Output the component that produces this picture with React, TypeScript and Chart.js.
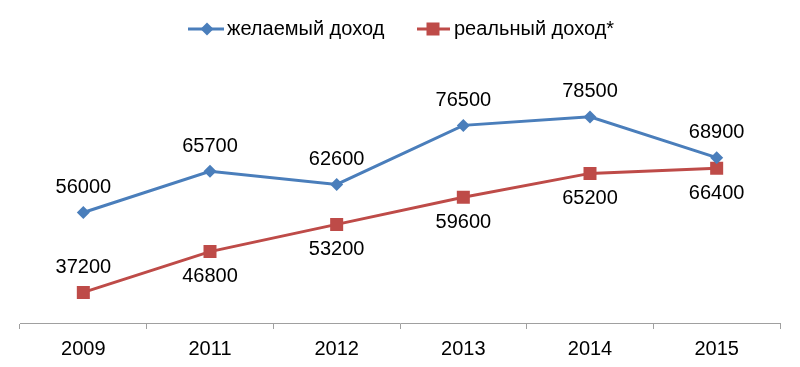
import React, { useEffect, useRef } from "react";
import { Chart, registerables } from "chart.js";

Chart.register(...registerables);

const YEARS = ["2009", "2011", "2012", "2013", "2014", "2015"];
const DESIRED = [56000, 65700, 62600, 76500, 78500, 68900];
const REAL = [37200, 46800, 53200, 59600, 65200, 66400];
const SERIES_NAMES = ["желаемый доход", "реальный доход*"];
const DESIRED_LABEL_POS = ["above", "above", "above", "above", "above", "above"];
const REAL_LABEL_POS = ["above", "below", "below", "below", "below", "below"];

const BLUE = "#4A7EBB";
const RED = "#BE4B48";
const FONT = '"Liberation Sans", Arial, sans-serif';

const overlayPlugin = {
  id: "overlay",
  afterDatasetsDraw(chart: any) {
    const ctx = chart.ctx;
    ctx.save();
    ctx.font = `20px ${FONT}`;
    ctx.fillStyle = "#000";
    ctx.textAlign = "center";
    ctx.textBaseline = "middle";
    const positions = [DESIRED_LABEL_POS, REAL_LABEL_POS];
    chart.data.datasets.forEach((ds: any, i: number) => {
      const meta = chart.getDatasetMeta(i);
      meta.data.forEach((pt: any, j: number) => {
        const dy = positions[i][j] === "above" ? -25 : 25;
        ctx.fillText(String(ds.data[j]), pt.x, pt.y + dy);
      });
    });

    // legend
    const ly = 29;
    ctx.textAlign = "left";
    ctx.strokeStyle = BLUE;
    ctx.lineWidth = 3;
    ctx.beginPath();
    ctx.moveTo(188, ly);
    ctx.lineTo(224, ly);
    ctx.stroke();
    ctx.fillStyle = BLUE;
    ctx.beginPath();
    ctx.moveTo(207, ly - 6.5);
    ctx.lineTo(213.5, ly);
    ctx.lineTo(207, ly + 6.5);
    ctx.lineTo(200.5, ly);
    ctx.closePath();
    ctx.fill();
    ctx.fillStyle = "#000";
    ctx.fillText(SERIES_NAMES[0], 227, ly);
    ctx.strokeStyle = RED;
    ctx.beginPath();
    ctx.moveTo(417, ly);
    ctx.lineTo(450, ly);
    ctx.stroke();
    ctx.fillStyle = RED;
    ctx.fillRect(433 - 6.5, ly - 6.5, 13, 13);
    ctx.fillStyle = "#000";
    ctx.fillText(SERIES_NAMES[1], 454, ly);
    ctx.restore();
  },
};

export default function App() {
  const ref = useRef<HTMLCanvasElement>(null);
  useEffect(() => {
    document.body.style.margin = "0";
    const chart = new Chart(ref.current!, {
      type: "line",
      data: {
        labels: YEARS,
        datasets: [
          {
            label: SERIES_NAMES[0],
            data: DESIRED,
            borderColor: BLUE,
            backgroundColor: BLUE,
            borderWidth: 3,
            pointStyle: "rectRot",
            pointRadius: 6.5,
            pointBorderWidth: 0,
            tension: 0,
          },
          {
            label: SERIES_NAMES[1],
            data: REAL,
            borderColor: RED,
            backgroundColor: RED,
            borderWidth: 3,
            pointStyle: "rect",
            pointRadius: 9.2,
            pointBorderWidth: 0,
            tension: 0,
          },
        ],
      },
      options: {
        responsive: false,
        animation: false,
        layout: { padding: { left: 20, right: 20, top: 68, bottom: 0 } },
        plugins: { legend: { display: false }, tooltip: { enabled: false } },
        scales: {
          x: {
            offset: true,
            grid: {
              offset: true,
              drawOnChartArea: false,
              drawTicks: true,
              tickLength: 6,
              color: "#A0A0A0",
            },
            border: { display: true, color: "#A0A0A0", width: 1 },
            ticks: {
              color: "#000",
              font: { family: FONT, size: 20, lineHeight: 1.0 },
              padding: 10,
            },
          },
          y: {
            display: false,
            min: 30000,
            max: 90000,
          },
        },
      },
      plugins: [overlayPlugin],
    });
    return () => chart.destroy();
  }, []);
  return (
    <div
      style={{
        position: "absolute",
        left: 0,
        top: 0,
        width: 800,
        height: 367,
        overflow: "hidden",
      }}
    >
      <canvas ref={ref} width={800} height={369} style={{ display: "block" }} />
    </div>
  );
}
